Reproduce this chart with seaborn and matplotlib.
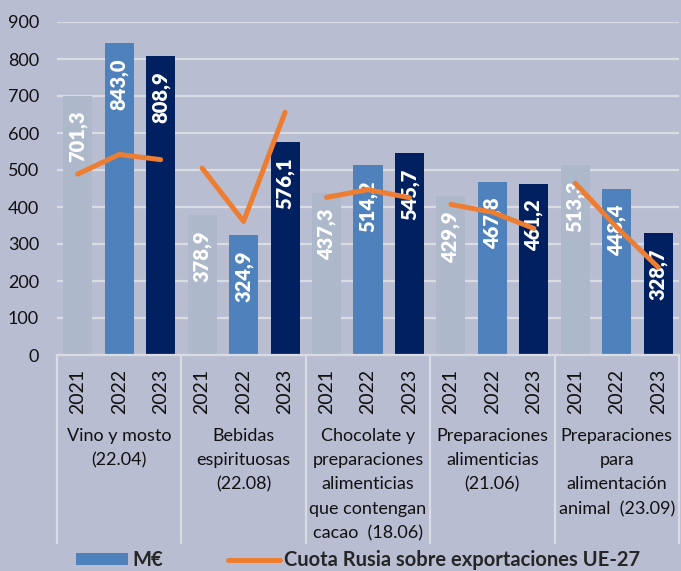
import matplotlib
matplotlib.use("Agg")
import matplotlib.pyplot as plt
from matplotlib.lines import Line2D
from matplotlib.patches import Patch
import seaborn as sns
import pandas as pd

# data
categorias = [
    "Vino y mosto\n(22.04)",
    "Bebidas\nespirituosas\n(22.08)",
    "Chocolate y\npreparaciones\nalimenticias\nque contengan\ncacao  (18.06)",
    "Preparaciones\nalimenticias\n(21.06)",
    "Preparaciones\npara\nalimentación\nanimal  (23.09)",
]
anios = ["2021", "2022", "2023"]
meur_2021 = [701.3, 378.9, 437.3, 429.9, 513.3]
meur_2022 = [843.0, 324.9, 514.2, 467.8, 448.4]
meur_2023 = [808.9, 576.1, 545.7, 461.2, 328.7]
# orange line, drawn on the same (hidden) scale as the bars
cuota_2021 = [489, 505, 426, 407, 464]
cuota_2022 = [542, 361, 447, 386, 345]
cuota_2023 = [528, 656, 425, 342, 237]
y_ticks = [0, 100, 200, 300, 400, 500, 600, 700, 800, 900]

BG = "#B8BDD2"
GRID = "#DADBE3"
ORANGE = "#ED7D31"
colores = {"2021": "#ADB8CA", "2022": "#4F81BD", "2023": "#002060"}

rows, lrows = [], []
for i, cat in enumerate(categorias):
    vals = [meur_2021[i], meur_2022[i], meur_2023[i]]
    cuotas = [cuota_2021[i], cuota_2022[i], cuota_2023[i]]
    for j, a in enumerate(anios):
        pos = f"{i}-{a}"
        rows.append({"pos": pos, "anio": a, "valor": vals[j]})
        lrows.append({"pos": pos, "grupo": i, "cuota": cuotas[j]})
df = pd.DataFrame(rows)
dl = pd.DataFrame(lrows)
orden = list(df["pos"])

sns.set_style("white")
plt.rcParams["font.family"] = ["Lato", "DejaVu Sans"]

fig = plt.figure(figsize=(6.81, 5.71), dpi=100, facecolor=BG)
ax = fig.add_axes([57 / 681, 1 - 355 / 571, 622 / 681, 333 / 571])
ax.set_facecolor(BG)

sns.barplot(data=df, x="pos", y="valor", hue="anio", order=orden, dodge=False,
            palette=colores, width=0.7, saturation=1, legend=False, ax=ax, zorder=2,
            linewidth=0, edgecolor="none")

# value labels inside the top of each bar
for cont in ax.containers:
    for bar in cont:
        h = bar.get_height()
        if h != h or h == 0:
            continue
        ax.annotate(f"{h:.1f}".replace(".", ","),
                    (bar.get_x() + bar.get_width() / 2, h),
                    xytext=(0, -11), textcoords="offset points",
                    ha="center", va="top", rotation=90, color="white",
                    fontsize=14.5, fontweight="heavy",
                    family=["Lato Black", "Lato", "DejaVu Sans"], zorder=3)

sns.lineplot(data=dl, x="pos", y="cuota", units="grupo", estimator=None, sort=False,
             color=ORANGE, lw=3.6, ax=ax, legend=False, zorder=4,
             solid_capstyle="round")

ax.set_xlim(-0.5, 14.5)
ax.set_ylim(0, 900)
ax.set_yticks(y_ticks)
ax.set_yticklabels([str(t) for t in y_ticks], fontsize=13, color="#111111")
ax.set_xticks(range(15))
ax.set_xticklabels(anios * 5, rotation=90, fontsize=14, color="#111111")
ax.tick_params(axis="y", length=0, pad=13)
ax.tick_params(axis="x", length=0, pad=10)
ax.set_xlabel("")
ax.set_ylabel("")
ax.yaxis.grid(True, color=GRID, lw=1.6, zorder=0)
ax.set_axisbelow(True)
for s in ["top", "right", "left"]:
    ax.spines[s].set_visible(False)
ax.spines["bottom"].set_color(GRID)
ax.spines["bottom"].set_linewidth(1.6)

# group separators and category names under the year ticks
tr = ax.get_xaxis_transform()
for k in range(6):
    ax.add_line(Line2D([k * 3 - 0.5, k * 3 - 0.5], [0, -0.565], transform=tr,
                       color=GRID, lw=1.6, clip_on=False))
for i, cat in enumerate(categorias):
    ax.text(i * 3 + 1, -0.218, cat, transform=tr, ha="center", va="top",
            fontsize=13, color="#111111", linespacing=1.65)

handles = [Patch(facecolor=colores["2022"], edgecolor="none", label="M€"),
           Line2D([], [], color=ORANGE, lw=3.6, label="Cuota Rusia sobre exportaciones UE-27")]
leg = ax.legend(handles=handles, loc="center left", bbox_to_anchor=((76 - 57) / 622, -0.616),
                ncol=2, frameon=False, handlelength=2.6, handleheight=0.5, handletextpad=0.2,
                columnspacing=3.2, borderaxespad=0, borderpad=0,
                prop={"size": 14.5, "weight": "bold"})

fig.savefig("out.png", dpi=100, facecolor=BG)
